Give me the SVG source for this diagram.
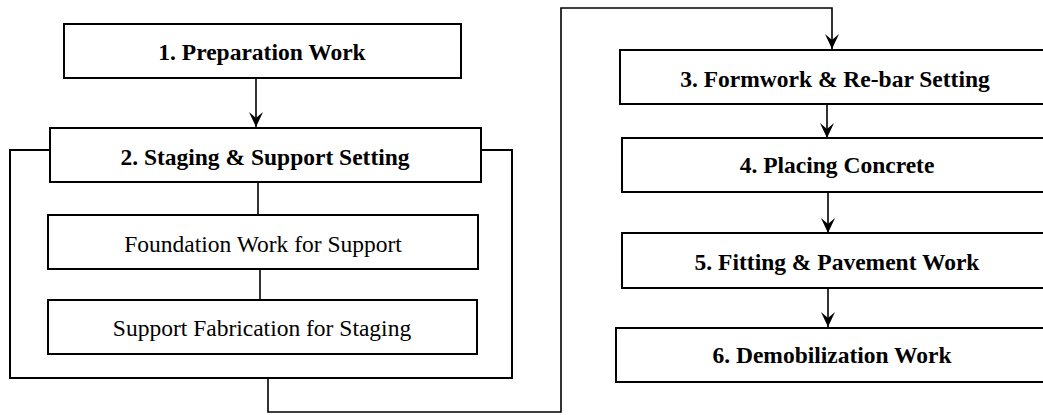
<svg xmlns="http://www.w3.org/2000/svg" width="1043" height="415" viewBox="0 0 1043 415">
<defs>
<style>
.box{fill:#fff;stroke:#000;stroke-width:2}
text{font-family:'Liberation Serif','Times New Roman','DejaVu Serif',serif;font-size:23.5px;fill:#000;text-anchor:middle}
.b{font-weight:bold}
.ln{fill:none;stroke:#000;stroke-width:1.6}
.fr{fill:none;stroke:#000;stroke-width:2}
</style>
<marker id="ah" viewBox="0 0 16 14" refX="16" refY="7" markerWidth="16" markerHeight="14" markerUnits="userSpaceOnUse" orient="auto">
<path d="M16,7 L1,0 L7,7 L1,14 Z" fill="#000"/>
</marker>
</defs>
<rect width="1043" height="415" fill="#fff"/>
<g id="connectors">
<path class="fr" d="M50,150 H10 V378 H512 V150 H481"/>
<path class="ln" d="M256,78 V127" marker-end="url(#ah)"/>
<path class="ln" d="M258,182 V215"/>
<path class="ln" d="M260,269 V300"/>
<path class="ln" d="M268,378 V412 H561 V8 H832 V49" marker-end="url(#ah)"/>
<path class="ln" d="M827,104 V138" marker-end="url(#ah)"/>
<path class="ln" d="M828,192 V233" marker-end="url(#ah)"/>
<path class="ln" d="M828,288 V327" marker-end="url(#ah)"/>
</g>
<g id="n1"><rect class="box" x="64" y="24" width="397" height="54"/><text class="b" x="262" y="60" font-family="Liberation Serif, serif">1. Preparation Work</text></g>
<g id="n2"><rect class="box" x="50" y="128" width="431" height="54"/><text class="b" x="265" y="165" font-family="Liberation Serif, serif">2. Staging &amp; Support Setting</text></g>
<g id="n2a"><rect class="box" x="48" y="215" width="430" height="54"/><text x="263" y="252" font-family="Liberation Serif, serif">Foundation Work for Support</text></g>
<g id="n2b"><rect class="box" x="48" y="300" width="429" height="54"/><text x="262" y="336" font-family="Liberation Serif, serif">Support Fabrication for Staging</text></g>
<g id="n3"><rect class="box" x="620" y="50" width="440" height="54"/><text class="b" x="835" y="87" font-family="Liberation Serif, serif">3. Formwork &amp; Re-bar Setting</text></g>
<g id="n4"><rect class="box" x="622" y="138" width="440" height="54"/><text class="b" x="837" y="173" font-family="Liberation Serif, serif">4. Placing Concrete</text></g>
<g id="n5"><rect class="box" x="622" y="233" width="440" height="55"/><text class="b" x="837" y="270" font-family="Liberation Serif, serif">5. Fitting &amp; Pavement Work</text></g>
<g id="n6"><rect class="box" x="616" y="328" width="440" height="54"/><text class="b" x="832" y="363" font-family="Liberation Serif, serif">6. Demobilization Work</text></g>
</svg>
